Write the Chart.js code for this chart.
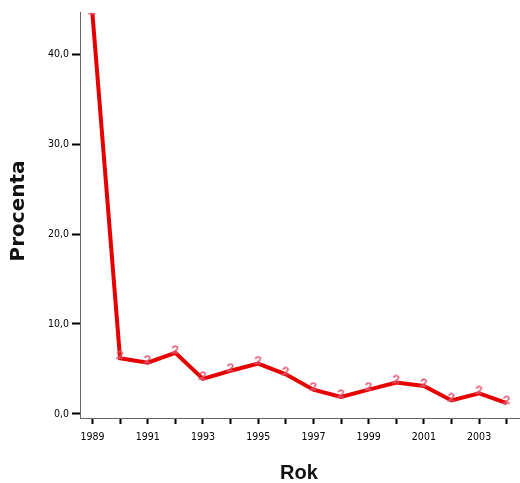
<!DOCTYPE html>
<html><head><meta charset="utf-8">
<script src="https://cdn.jsdelivr.net/npm/chart.js@4/dist/chart.umd.min.js"></script>
<style>html,body{margin:0;padding:0;background:#fff}#wrap{width:520px;height:483px}</style>
</head><body><div id="wrap"><canvas id="c"></canvas></div>
<script>
const years = [1989,1990,1991,1992,1993,1994,1995,1996,1997,1998,1999,2000,2001,2002,2003,2004];
const percent = [44.5,6.2,5.7,6.8,3.9,4.8,5.6,4.4,2.7,1.9,2.7,3.5,3.1,1.5,2.3,1.2];
const yTicks = [0,10,20,30,40];
const xTitle = 'Rok';
const yTitle = 'Procenta';

// small "2"-like marker glyph drawn as a path, sitting slightly above the point
const mk = document.createElement('canvas');
mk.width = 9; mk.height = 16;
(function(){
  const g = mk.getContext('2d');
  g.strokeStyle = '#e0506a'; g.lineWidth = 1.5;
  g.beginPath();
  g.moveTo(1.5,3.2); g.quadraticCurveTo(4.5,-0.2,6.8,2.6); g.quadraticCurveTo(7,4.8,1.5,8); g.lineTo(7.6,8);
  g.stroke();
})();

const titlesPlugin = {
  id:'titles',
  afterDraw(chart){
    const ctx = chart.ctx;
    ctx.save();
    ctx.fillStyle = '#111';
    ctx.textAlign = 'center'; ctx.textBaseline = 'middle';
    ctx.font = 'bold 20px "Liberation Sans", Arial, sans-serif';
    ctx.fillText(xTitle, 299, 473);
    ctx.translate(19, 211);
    ctx.rotate(-Math.PI/2);
    ctx.font = 'bold 20px "DejaVu Sans", sans-serif';
    ctx.fillText(yTitle, 0, 0);
    ctx.restore();
  }
};

const tickFont = {family:'"DejaVu Sans Condensed","Liberation Sans", sans-serif', size:10.5};

new Chart(document.getElementById('c'), {
  type:'line',
  data:{ datasets:[{
    data: years.map((y,i)=>({x:y, y:percent[i]})),
    borderColor:'#e60000', borderWidth:4, tension:0,
    pointStyle: mk, pointRadius:4,
    pointBackgroundColor:'#e0506a', pointBorderColor:'#e0506a'
  }]},
  options:{
    responsive:true, maintainAspectRatio:false, animation:false,
    layout:{autoPadding:false, padding:{top:12.7,right:0,left:0,bottom:0}},
    plugins:{legend:{display:false}, tooltip:{enabled:false}},
    scales:{
      x:{
        type:'linear', min:1988.55, max:2004.48,
        afterBuildTicks(s){ s.ticks = years.map(v=>({value:v})); },
        afterFit(s){ s.height = 65; s.paddingLeft = 0; s.paddingRight = 0; },
        ticks:{ autoSkip:false, maxRotation:0, padding:7,
          color:'#000', font:tickFont,
          callback:(v)=> (v%2===1 ? String(v) : '') },
        grid:{ drawOnChartArea:false, drawTicks:true, tickLength:6, tickWidth:2, tickColor:'#000' },
        border:{ color:'#666', width:1 }
      },
      y:{
        min:-0.45, max:44.6,
        afterBuildTicks(s){ s.ticks = yTicks.map(v=>({value:v})); },
        afterFit(s){ s.width = 80; s.paddingTop = 0; s.paddingBottom = 0; },
        ticks:{ padding:3, color:'#000', font:tickFont,
          callback:(v)=> v.toFixed(1).replace('.',',') },
        grid:{ drawOnChartArea:false, drawTicks:true, tickLength:8, tickWidth:2, tickColor:'#000' },
        border:{ color:'#666', width:1 }
      }
    }
  },
  plugins:[titlesPlugin]
});
</script></body></html>
